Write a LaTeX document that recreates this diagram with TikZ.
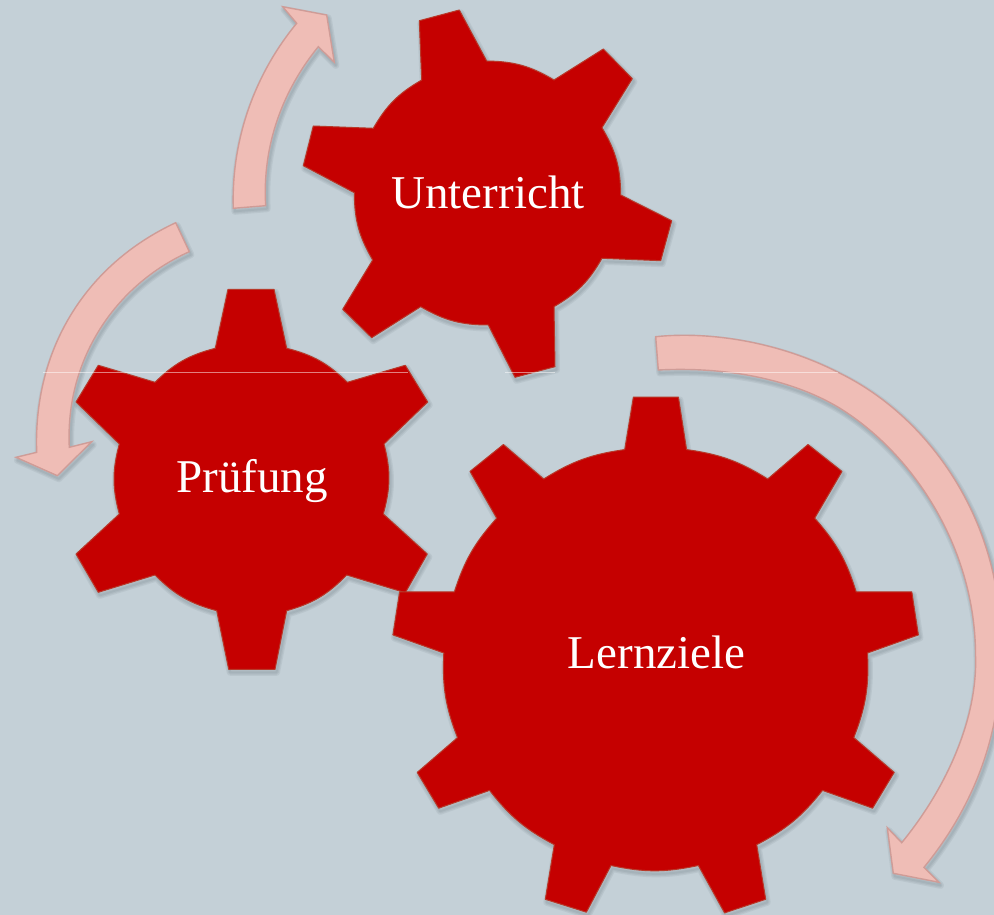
\documentclass[tikz,border=0pt]{standalone}
\usepackage{fontspec}
\setmainfont{Liberation Serif}
\definecolor{bgc}{HTML}{C4D0D7}
\definecolor{gearfill}{HTML}{C50000}
\definecolor{gearline}{HTML}{B8392A}
\definecolor{arrowfill}{HTML}{EFBDB6}
\definecolor{arrowline}{HTML}{CF9C97}
\definecolor{shadowc}{HTML}{3A4A55}
\tikzset{
  gearshape/.style={fill=gearfill,draw=gearline,line width=1pt,line join=round},
  arrowshape/.style={fill=arrowfill,draw=arrowline,line width=1.4pt,line join=miter},
  softline/.style={draw=shadowc,draw opacity=.08,line join=round},
  label/.style={text=white,anchor=base,font=\fontsize{47}{50}\selectfont,inner sep=0pt},
  seam/.style={draw=white,draw opacity=.5,line width=.5pt}
}
\newcommand\softshadow[1]{%
  \begin{scope}[xshift=1.5pt,yshift=-3pt]
    \path[softline,line width=7pt] #1;
    \path[softline,line width=4.5pt] #1;
    \path[softline,line width=2pt] #1;
  \end{scope}}
\def\gearU{(419.3,20.7) -- (459.3,10) -- (486.7,61) to[bend left=15] (554,80) -- (603.3,49) -- (632.3,78.7) -- (602,127.7) to[bend left=15] (620.7,195) -- (671.7,220.7) -- (660.7,260.7) -- (602,258.3) to[bend left=15] (554,306.7) -- (555,366.7) -- (515,377.3) -- (488.3,325) to[bend left=15] (420.7,306.7) -- (371.7,337.7) -- (342.7,309.3) -- (372.7,260) to[bend left=15] (354.3,192.7) -- (303.3,165.7) -- (313.3,126) -- (373.3,128.3) to[bend left=15] (421.7,80) -- cycle}
\def\gearP{(228,289.3) -- (274,289.3) -- (286.7,348.3) to[bend left=15] (347.3,382.3) -- (405.3,365.3) -- (427.7,402) -- (384,444) to[bend left=15] (383.3,514) -- (427.3,554) -- (405.3,592.7) -- (346.7,575) to[bend left=15] (286.7,610.7) -- (275,669.3) -- (228.7,669.3) -- (216.7,610.7) to[bend left=15] (155,575) -- (98.3,592.3) -- (76,554) -- (119.3,514) to[bend left=15] (119.3,444) -- (76,402) -- (98.3,365.3) -- (155,382.3) to[bend left=15] (215.3,348.3) -- cycle}
\def\gearL{(633.4,397) -- (678.4,397) -- (686.6,449.6) to[bend left=12] (767.7,479) -- (808,444.5) -- (842,471.4) -- (814.7,518.2) to[bend left=12] (856.2,591.9) -- (911.8,591.9) -- (918.4,634.9) -- (867.5,653) to[bend left=12] (853.8,737.6) -- (894.2,772.4) -- (872.6,808.2) -- (822.5,790.4) to[bend left=12] (756.7,844.7) -- (765.7,899.3) -- (724.6,912.9) -- (698.4,865.5) to[bend left=12] (611,865.5) -- (586.4,912.2) -- (545.3,899.3) -- (554.3,844.7) to[bend left=12] (489.6,790.4) -- (438.7,808.2) -- (417.2,772.4) -- (457.5,737.6) to[bend left=12] (443.8,653) -- (392.9,634.9) -- (399.6,591.9) -- (454.4,591.9) to[bend left=12] (496.7,518.2) -- (470,471.4) -- (503.4,444.5) -- (543.7,479) to[bend left=12] (624.7,449.6) -- cycle}
\def\arrowT{(233.3,208.3) .. controls (231,135) and (258,70) .. (296.7,23.3) -- (282.7,6.7) -- (326.7,15) -- (334.3,62.3) -- (318.3,46.7) .. controls (283,90) and (262,145) .. (265.7,205.7) -- cycle}
\def\arrowL{(175.7,222.7) -- (189.3,251.7) .. controls (115,285) and (65,360) .. (69.3,447.3) -- (91.7,441.7) -- (57.3,475.7) -- (16,457.3) -- (36.7,452.3) .. controls (33,350) and (85,265) .. (175.7,222.7) -- cycle}
\def\arrowR{(655.7,336.7) .. controls (710,331) and (780,342) .. (840,373.3) .. controls (935,420) and (1005,530) .. (1000,650) .. controls (1003,730) and (975,805) .. (924,867.3) -- (939,882.3) -- (893.3,873.3) -- (887.3,827.7) -- (901.7,842.7) .. controls (945,790) and (978,720) .. (975.5,655) .. controls (975.5,550) and (915,455) .. (840,408.3) .. controls (785,375) and (715,367) .. (658.3,370) -- cycle}
\begin{document}
\begin{tikzpicture}[x=1pt,y=-1pt]
  \useasboundingbox (0,0) rectangle (994,915);
  \clip (0,0) rectangle (994,915);
  \fill[bgc] (0,0) rectangle (994,915);
  % arrows
  \softshadow{\arrowT}
  \softshadow{\arrowL}
  \softshadow{\arrowR}
  \path[arrowshape] \arrowT;
  \path[arrowshape] \arrowL;
  \path[arrowshape] \arrowR;
  % gears
  \softshadow{\gearU}
  \path[gearshape] \gearU;
  \softshadow{\gearP}
  \path[gearshape] \gearP;
  \softshadow{\gearL}
  \path[gearshape] \gearL;
  % thin light seam
  \coordinate (seamA) at (43,372.3);
  \coordinate (seamB) at (408,372.3);
  \coordinate (seamC) at (505,372.3);
  \coordinate (seamD) at (555,372.3);
  \coordinate (seamE) at (723,372.3);
  \coordinate (seamF) at (838,372.3);
  \path[seam] (seamA) -- (seamB);
  \path[seam] (seamC) -- (seamD);
  \path[seam] (seamE) -- (seamF);
  % labels
  \node[label] (unterricht) at (488,208) {Unterricht};
  \node[label] (pruefung) at (252,492.5) {Prüfung};
  \node[label] (lernziele) at (656.5,668) {Lernziele};
\end{tikzpicture}
\end{document}
